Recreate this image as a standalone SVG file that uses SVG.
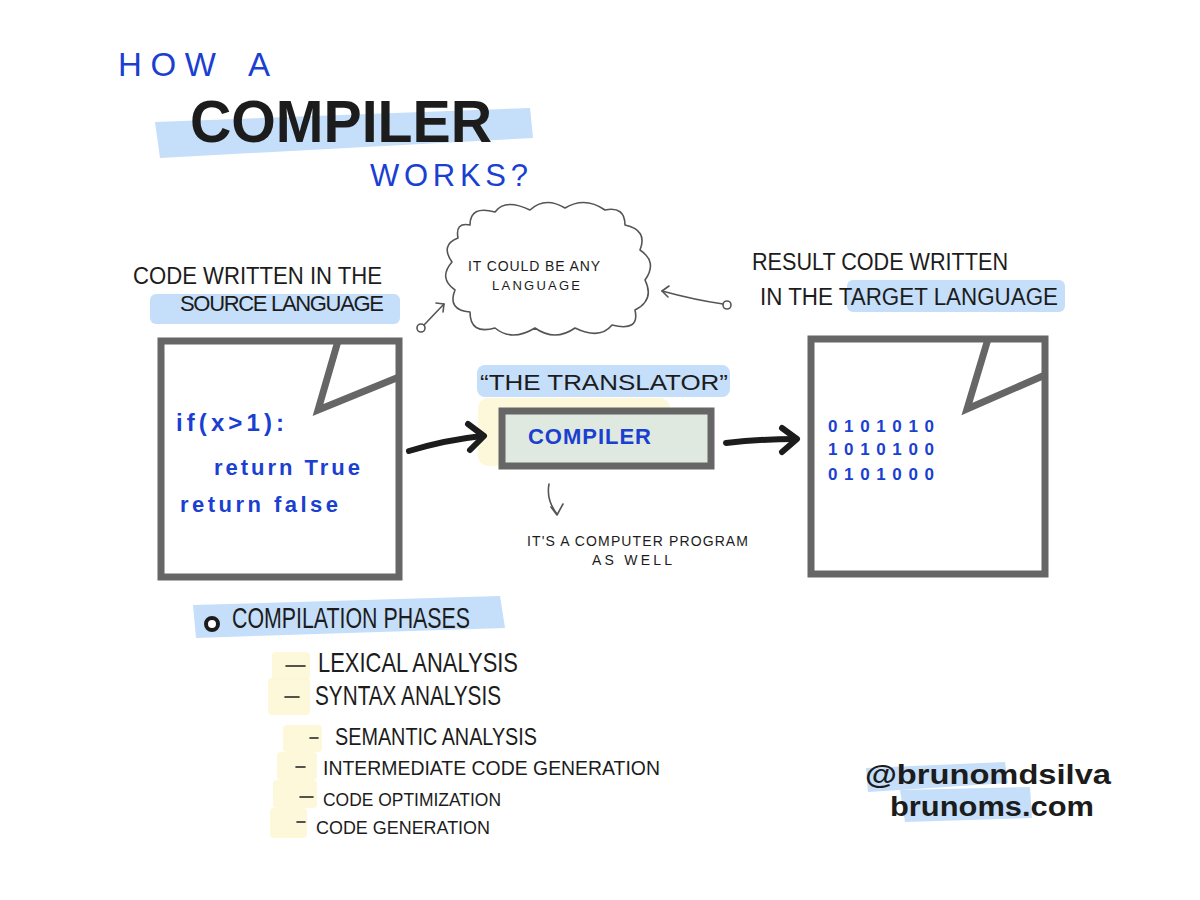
<svg xmlns="http://www.w3.org/2000/svg" width="1200" height="900" viewBox="0 0 1200 900">
<defs>
<style>
.hand{font-family:"Liberation Sans",Arial,sans-serif;}
.blue{fill:#1a3fd1;}
.blk{fill:#1c1c1c;}
.hl{fill:#9fc8f7;opacity:0.6;}
.yl{fill:#fbf6d0;opacity:0.8;}
.doc{fill:#fff;stroke:#666;stroke-width:7;}
.fold{fill:none;stroke:#666;stroke-width:7;stroke-linejoin:miter;}
.thin{fill:none;stroke:#555;stroke-width:1.6;stroke-linecap:round;stroke-linejoin:round;}
.bigarrow{fill:none;stroke:#1c1c1c;stroke-width:6;stroke-linecap:round;stroke-linejoin:round;}
</style>
</defs>
<rect width="1200" height="900" fill="#fff"/>

<g id="title">
<text class="hand blue" x="118" y="76" font-size="33" textLength="98">HOW</text>
<text class="hand blue" x="248" y="76" font-size="33">A</text>
<path class="hl" d="M155,122 L530,108 L533,138 L160,158 Z"/>
<text class="hand blk" x="190" y="142" font-size="60" font-weight="700" textLength="302" lengthAdjust="spacingAndGlyphs">COMPILER</text>
<text class="hand blue" x="370" y="186" font-size="31" textLength="158">WORKS?</text>
</g>

<g id="source-label">
<text class="hand blk" x="133" y="284" font-size="24" textLength="249" lengthAdjust="spacingAndGlyphs">CODE WRITTEN IN THE</text>
<rect class="hl" x="150" y="294" width="250" height="30" rx="6"/>
<text class="hand blk" x="180" y="311" font-size="22" textLength="204">SOURCE  LANGUAGE</text>
</g>

<g id="cloud">
<path class="thin" stroke="#777" stroke-width="1.2" d="M470,225 Q470,205 495,212 Q505,198 530,210 Q545,196 565,208 Q585,196 605,210 Q625,206 625,225 Q648,230 640,250 Q658,262 645,280 Q655,300 635,310 Q640,332 612,325 Q600,340 575,328 Q555,342 535,328 Q512,342 495,328 Q470,335 470,312 Q447,310 455,290 Q438,278 452,262 Q440,245 458,238 Q455,222 470,225 Z"/>
<text class="hand blk" x="468" y="271" font-size="14" textLength="132">IT COULD BE ANY</text>
<text class="hand blk" x="492" y="290" font-size="13" textLength="88">LANGUAGE</text>
</g>

<g id="target-label">
<text class="hand blk" x="752" y="270" font-size="24" textLength="256" lengthAdjust="spacingAndGlyphs">RESULT CODE WRITTEN</text>
<rect class="hl" x="847" y="280" width="218" height="32" rx="6"/>
<text class="hand blk" x="760" y="305" font-size="23" textLength="298" lengthAdjust="spacingAndGlyphs">IN THE TARGET LANGUAGE</text>
</g>

<g id="source-doc">
<rect class="doc" x="161" y="341" width="238" height="236"/>
<path class="fold" d="M338,341 L318,410 L399,377"/>
<text class="hand blue" x="176" y="431" font-size="24" font-weight="700" textLength="108">if(x&gt;1):</text>
<text class="hand blue" x="214" y="475" font-size="22" font-weight="700" textLength="146">return True</text>
<text class="hand blue" x="180" y="512" font-size="22" font-weight="700" textLength="158">return false</text>
</g>

<g id="compiler">
<rect class="hl" x="477" y="365" width="253" height="32" rx="8"/>
<text class="hand blk" x="480" y="390" font-size="22" textLength="248" lengthAdjust="spacingAndGlyphs">“THE  TRANSLATOR”</text>
<rect class="yl" x="478" y="398" width="192" height="68" rx="10"/>
<rect x="502" y="411" width="209" height="55" fill="#dfe9df" stroke="#666" stroke-width="7"/>
<text class="hand blue" x="528" y="444" font-size="22" font-weight="700" textLength="123">COMPILER</text>
<text class="hand blk" x="527" y="546" font-size="14" textLength="221">IT'S A COMPUTER PROGRAM</text>
<text class="hand blk" x="592" y="565" font-size="14" textLength="80">AS WELL</text>
</g>

<g id="target-doc">
<rect class="doc" x="811" y="339" width="234" height="235"/>
<path class="fold" d="M988,339 L967,409 L1045,375"/>
<text class="hand blue" x="828" y="432" font-size="17" font-weight="700" textLength="106">0101010</text>
<text class="hand blue" x="828" y="455" font-size="17" font-weight="700" textLength="106">1010100</text>
<text class="hand blue" x="828" y="480" font-size="17" font-weight="700" textLength="106">0101000</text>
</g>

<g id="phases">
<path class="hl" d="M193,605 L500,596 L505,628 L196,638 Z"/>
<circle cx="212" cy="624" r="6" fill="#fff" stroke="#1c1c1c" stroke-width="4"/>
<text class="hand blk" x="232" y="628" font-size="30" textLength="238" lengthAdjust="spacingAndGlyphs">COMPILATION PHASES</text>
<rect class="yl" x="272" y="652" width="38" height="28" rx="4"/>
<rect class="yl" x="268" y="678" width="42" height="37" rx="4"/>
<rect class="yl" x="283" y="725" width="39" height="27" rx="4"/>
<rect class="yl" x="277" y="752" width="40" height="28" rx="4"/>
<rect class="yl" x="273" y="780" width="44" height="28" rx="4"/>
<rect class="yl" x="270" y="808" width="37" height="30" rx="4"/>
<g stroke="#1c1c1c" stroke-width="1.6" stroke-linecap="round">
<line x1="286" y1="666" x2="305" y2="666"/>
<line x1="285" y1="697" x2="299" y2="697"/>
<line x1="310" y1="738" x2="318" y2="738"/>
<line x1="296" y1="767" x2="305" y2="767"/>
<line x1="300" y1="797" x2="313" y2="797"/>
<line x1="297" y1="822" x2="305" y2="822"/>
</g>
<text class="hand blk" x="318" y="672" font-size="28" textLength="200" lengthAdjust="spacingAndGlyphs">LEXICAL ANALYSIS</text>
<text class="hand blk" x="315" y="705" font-size="27" textLength="186" lengthAdjust="spacingAndGlyphs">SYNTAX ANALYSIS</text>
<text class="hand blk" x="335" y="745" font-size="24" textLength="202" lengthAdjust="spacingAndGlyphs">SEMANTIC ANALYSIS</text>
<text class="hand blk" x="323" y="775" font-size="20" textLength="337" lengthAdjust="spacingAndGlyphs">INTERMEDIATE CODE GENERATION</text>
<text class="hand blk" x="323" y="806" font-size="19" textLength="178" lengthAdjust="spacingAndGlyphs">CODE OPTIMIZATION</text>
<text class="hand blk" x="316" y="834" font-size="19" textLength="174" lengthAdjust="spacingAndGlyphs">CODE GENERATION</text>
</g>

<g id="credits">
<path class="hl" d="M866,768 L1005,762 L1008,783 L868,792 Z"/>
<path class="hl" d="M900,790 L1030,787 L1032,818 L905,822 Z"/>
<text class="hand blk" x="865" y="784" font-size="27" font-weight="700" textLength="246" lengthAdjust="spacingAndGlyphs">@brunomdsilva</text>
<text class="hand blk" x="890" y="816" font-size="27" font-weight="700" textLength="204" lengthAdjust="spacingAndGlyphs">brunoms.com</text>
</g>

<g id="connectors">
<path class="bigarrow" d="M409,451 Q445,440 482,436"/>
<path class="bigarrow" d="M468,424 L484,436 L470,450"/>
<path class="bigarrow" d="M726,443 Q760,439 796,439"/>
<path class="bigarrow" d="M782,428 L797,439 L782,452"/>
<path class="thin" d="M549,484 Q546,500 557,514"/>
<path class="thin" d="M551,507 L557,515 L563,504"/>
<circle cx="421" cy="328" r="4" fill="none" stroke="#555" stroke-width="1.6"/>
<path class="thin" d="M424,325 L444,304"/>
<path class="thin" d="M436,303 L444,304 L443,312"/>
<circle cx="727" cy="305" r="4" fill="none" stroke="#555" stroke-width="1.6"/>
<path class="thin" d="M723,304 Q695,300 662,291"/>
<path class="thin" d="M669,286 L662,291 L668,297"/>
</g>
</svg>
